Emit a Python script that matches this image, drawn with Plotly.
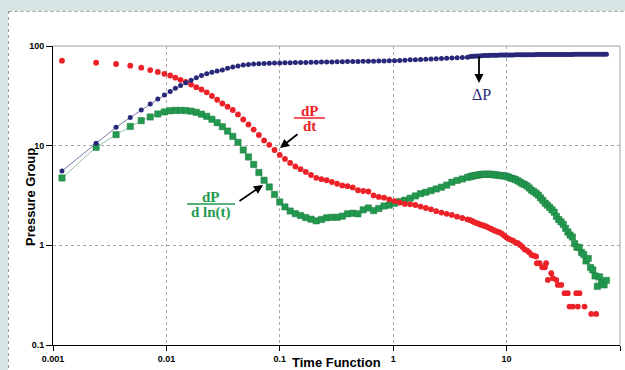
import plotly.graph_objects as go

# ---------------- data ----------------
time_main = [0.0012, 0.0024, 0.0036, 0.0048, 0.0060, 0.0072, 0.0084, 0.0096, 0.0108,
             0.0120, 0.01334, 0.01484, 0.01650, 0.01834, 0.02039, 0.02267, 0.02520, 0.02802, 0.03115,
             0.03463, 0.03850, 0.04280, 0.04758, 0.05290, 0.05881, 0.06538, 0.07268, 0.08080, 0.08982,
             0.09986, 0.1110, 0.1234, 0.1372, 0.1525, 0.1696, 0.1885, 0.2096, 0.2330, 0.2590,
             0.2879, 0.3201, 0.3558, 0.3956, 0.4398, 0.4889, 0.5436, 0.6043, 0.6718, 0.7468,
             0.8303, 0.9234, 1.027, 1.141, 1.269, 1.411, 1.569, 1.744, 1.939, 2.155,
             2.396, 2.664, 2.961, 3.292, 3.660, 4.069, 4.523]

time_tail = [4.786, 5.012, 5.248, 5.495, 5.754, 6.026, 6.310, 6.607, 6.918, 7.244,
             7.586, 7.943, 8.318, 8.710, 9.120, 9.550, 10.00, 10.47, 10.96, 11.48,
             12.02, 12.59, 13.18, 13.80, 14.45, 15.14, 15.85, 16.60, 17.38, 18.20,
             19.05, 19.95, 20.89, 21.88, 22.91, 23.99, 25.12, 26.30, 27.54, 28.84,
             30.20, 31.62, 33.11, 34.67, 36.31, 38.02, 39.81, 41.69, 43.65, 45.71,
             47.86, 50.12, 52.48, 54.95, 57.54, 60.26, 63.10, 66.07, 69.18, 72.44, 75.86]

delta_p_main = [5.57, 10.6, 15.3, 19.2, 22.8, 26.2, 29.4, 32.2, 35.0,
                37.6, 40.2, 42.7, 45.4, 48.0, 50.6, 52.6, 54.5, 56.1, 57.3,
                59.8, 61.6, 63.0, 64.3, 65.2, 65.8, 66.3, 66.8, 67.1, 67.4, 67.7,
                67.9, 68.0, 68.2, 68.3, 68.5, 68.6, 68.8, 68.9, 69.1, 69.2, 69.4,
                69.5, 69.7, 69.9, 70.0, 70.2, 70.3, 70.5, 70.7, 70.8, 71.0, 71.2,
                71.7, 72.0, 72.6, 72.9, 73.2, 73.6, 74.1, 74.4, 75.0, 75.3, 75.8,
                76.2, 76.7, 77.2]
delta_p_tail = [78.3, 78.7, 79.0, 79.3, 79.6, 79.9, 80.1, 80.3, 80.5, 80.6,
                80.7, 80.8, 80.9, 81.0, 81.1, 81.2, 81.2, 81.3, 81.4, 81.4,
                81.5, 81.6, 81.6, 81.7, 81.7, 81.8, 81.8, 81.9, 81.9, 82.0,
                82.0, 82.0, 82.1, 82.1, 82.1, 82.2, 82.2, 82.2, 82.3, 82.3,
                82.3, 82.3, 82.4, 82.4, 82.4, 82.4, 82.5, 82.5, 82.5, 82.5,
                82.6, 82.6, 82.6, 82.6, 82.6, 82.7, 82.7, 82.7, 82.7, 82.7, 82.8]

dpdt_main = [71.2, 68.0, 66.0, 63.5, 60.6, 57.4, 54.9, 52.6, 50.6,
             48.1, 45.8, 43.6, 41.0, 38.6, 36.6, 34.3, 31.5, 28.9, 26.5,
             24.6, 22.8, 20.6, 18.3, 16.3, 14.5, 12.8, 11.3, 10.2, 9.05,
             8.07, 7.36, 6.71, 6.19, 5.81, 5.45, 5.08, 4.76, 4.61, 4.50,
             4.32, 4.15, 3.99, 3.92, 3.81, 3.57, 3.51, 3.47, 3.17, 3.06,
             3.01, 2.89, 2.78, 2.69, 2.60, 2.58, 2.54, 2.45, 2.37, 2.30,
             2.20, 2.13, 2.07, 2.02, 1.94, 1.88, 1.82]
time_dpdt_tail = [4.786, 5.012, 5.248, 5.495, 5.754, 6.026, 6.310, 6.607, 6.918, 7.244,
                  7.586, 7.943, 8.318, 8.710, 9.120, 9.550, 10.00, 10.47, 10.96, 11.48,
                  12.02, 12.59, 13.18, 13.80, 14.45, 15.14, 15.85, 16.60, 17.38, 18.20,
                  18.49, 19.53, 20.63, 21.75, 22.30, 23.12, 24.76, 25.58, 27.41, 28.31,
                  30.34, 32.43, 34.68, 41.13, 43.98, 35.91, 38.38, 42.48, 48.67, 55.75, 61.70]
dpdt_tail = [1.789, 1.745, 1.697, 1.666, 1.632, 1.602, 1.573, 1.547, 1.508, 1.467,
             1.434, 1.394, 1.369, 1.347, 1.301, 1.248, 1.200, 1.159, 1.133, 1.107,
             1.064, 1.050, 1.009, 0.964, 0.910, 0.885, 0.849, 0.801, 0.788, 0.774,
             0.661, 0.661, 0.603, 0.603, 0.661, 0.450, 0.525, 0.468, 0.450, 0.401,
             0.401, 0.331, 0.331, 0.331, 0.331, 0.243, 0.243, 0.243, 0.243, 0.205, 0.205]

deriv_main = [4.74, 9.64, 12.9, 15.6, 17.8, 19.4, 20.8, 21.8, 22.4,
              22.6, 22.6, 22.5, 22.2, 21.6, 20.7, 19.7, 18.4, 17.0, 15.5,
              14.0, 12.4, 10.8, 9.05, 7.70, 6.48, 5.38, 4.50, 3.85, 3.24,
              2.72, 2.43, 2.21, 2.08, 1.99, 1.90, 1.83, 1.76, 1.82, 1.89,
              1.91, 1.91, 1.96, 2.07, 2.10, 2.07, 2.27, 2.37, 2.23, 2.34,
              2.48, 2.53, 2.64, 2.75, 2.84, 2.97, 3.13, 3.30, 3.41, 3.54,
              3.68, 3.83, 4.02, 4.30, 4.48, 4.63, 4.81]
deriv_tail = [4.89, 4.96, 5.01, 5.06, 5.11, 5.15, 5.17, 5.17, 5.17, 5.17,
              5.13, 5.09, 5.06, 5.02, 4.99, 4.97, 4.92, 4.83, 4.72, 4.66,
              4.56, 4.43, 4.30, 4.15, 4.07, 3.94, 3.76, 3.57, 3.46, 3.33,
              3.19, 2.99, 2.82, 2.65, 2.53, 2.40, 2.27, 2.15, 1.95, 1.81,
              1.72, 1.62, 1.48, 1.36, 1.27, 1.21, 1.04, 0.957, 0.953, 0.849,
              0.810, 0.697, 0.739, 0.600, 0.567, 0.493, 0.387, 0.483, 0.419, 0.401, 0.445]

x_tick_vals = [0.001, 0.01, 0.1, 1, 10, 100]
x_tick_text = ["0.001", "0.01", "0.1", "1", "10", "100"]
y_tick_vals = [0.1, 1, 10, 100]
y_tick_text = ["0.1", "1", "10", "100"]

# ---------------- styling ----------------
NAVY = "#28287a"
RED = "#ec2228"
GREEN = "#23994f"
SANS = "Liberation Sans, Arial, sans-serif"
SERIF = "Liberation Serif, Times New Roman, serif"

# plot area in pixels: x 53..620, y 46..345
L, T, R_, B_ = 53, 46, 620, 345
W, H = R_ - L, B_ - T


def px(xp):
    return (xp - L) / W


def py(yp):
    return (B_ - yp) / H


fig = go.Figure()

fig.add_trace(go.Scatter(
    x=time_main + time_tail, y=deriv_main + deriv_tail, mode="lines+markers",
    line=dict(color="#6fb38b", width=0.8),
    marker=dict(symbol="square", size=6.3, color=GREEN, line=dict(color="#1c7d40", width=0.5)),
    name="dP/d ln(t)"))
fig.add_trace(go.Scatter(
    x=time_main + time_dpdt_tail, y=dpdt_main + dpdt_tail, mode="markers",
    marker=dict(symbol="circle", size=5.8, color=RED, line=dict(width=0)),
    name="dP/dt"))
fig.add_trace(go.Scatter(
    x=time_main + time_tail, y=delta_p_main + delta_p_tail, mode="lines+markers",
    line=dict(color="#55558f", width=0.8),
    marker=dict(symbol="circle", size=5, color=NAVY, line=dict(width=0)),
    name="ΔP"))

axis_common = dict(
    type="log", showgrid=True, gridcolor="#a8a8a8", gridwidth=1, griddash="dot",
    showline=True, linecolor="black", linewidth=1, ticks="outside", tickcolor="black",
    tickwidth=1, zeroline=False, mirror=False,
    tickfont=dict(family=SANS, size=9, color="black", weight="bold"),
)

fig.update_layout(
    width=625, height=370, autosize=False,
    margin=dict(l=L, r=625 - R_, t=T, b=370 - B_, pad=0),
    paper_bgcolor="white", plot_bgcolor="white",
    showlegend=False,
    xaxis=dict(range=[-3, 2], tickvals=x_tick_vals, ticktext=x_tick_text, ticklen=5, **axis_common),
    yaxis=dict(range=[-1, 2], tickvals=y_tick_vals, ticktext=y_tick_text, ticklen=6, **axis_common),
)

BG = "#d6e4e3"
shapes = [
    # outer tinted background strips (left and top)
    dict(type="rect", xref="paper", yref="paper", x0=px(-20), x1=px(8), y0=py(400), y1=py(-20),
         fillcolor=BG, line=dict(width=0), layer="below"),
    dict(type="rect", xref="paper", yref="paper", x0=px(-20), x1=px(660), y0=py(11), y1=py(-20),
         fillcolor=BG, line=dict(width=0), layer="below"),
    # dotted border of white panel
    dict(type="line", xref="paper", yref="paper", x0=px(8.5), x1=px(8.5), y0=py(11), y1=py(400),
         line=dict(color="#9a9a9a", width=1, dash="dot")),
    dict(type="line", xref="paper", yref="paper", x0=px(8.5), x1=px(660), y0=py(11.5), y1=py(11.5),
         line=dict(color="#9a9a9a", width=1, dash="dot")),
    # top and right plot frame (gray)
    dict(type="line", xref="paper", yref="paper", x0=0, x1=1, y0=1, y1=1,
         line=dict(color="#a0a0a0", width=1)),
    dict(type="line", xref="paper", yref="paper", x0=1, x1=1, y0=0, y1=1,
         line=dict(color="#a0a0a0", width=1)),
    # fraction bars
    dict(type="line", xref="paper", yref="paper", x0=px(294), x1=px(325), y0=py(118), y1=py(118),
         line=dict(color=RED, width=1.5)),
    dict(type="line", xref="paper", yref="paper", x0=px(187), x1=px(235), y0=py(204), y1=py(204),
         line=dict(color=GREEN, width=1.5)),
]
fig.update_layout(shapes=shapes)

ann = [
    dict(text="Pressure Group", x=px(30), y=py(197), xref="paper", yref="paper", showarrow=False,
         textangle=-90, xanchor="center", yanchor="middle",
         font=dict(family=SANS, size=13, color="black", weight="bold")),
    dict(text="Time Function", x=px(336), y=py(362), xref="paper", yref="paper", showarrow=False,
         xanchor="center", yanchor="middle",
         font=dict(family=SANS, size=13, color="black", weight="bold")),
    # ΔP label + arrow
    dict(text="ΔP", x=px(481), y=py(94), xref="paper", yref="paper", showarrow=False,
         xanchor="center", yanchor="middle", font=dict(family=SERIF, size=16, color=NAVY)),
    dict(text="", x=px(479), y=py(83), xref="paper", yref="paper", showarrow=True,
         ax=0, ay=-28, arrowhead=2, arrowsize=1, arrowwidth=1.8, arrowcolor="black"),
    # dP/dt label + arrow
    dict(text="dP", x=px(309.5), y=py(111), xref="paper", yref="paper", showarrow=False,
         xanchor="center", yanchor="middle", font=dict(family=SERIF, size=15, color=RED, weight="bold")),
    dict(text="dt", x=px(309.5), y=py(126), xref="paper", yref="paper", showarrow=False,
         xanchor="center", yanchor="middle", font=dict(family=SERIF, size=15, color=RED, weight="bold")),
    dict(text="", x=px(280), y=py(148), xref="paper", yref="paper", showarrow=True,
         ax=19, ay=-15, arrowhead=2, arrowsize=1, arrowwidth=1.8, arrowcolor="black"),
    # dP/d ln(t) label + arrow
    dict(text="dP", x=px(211), y=py(197), xref="paper", yref="paper", showarrow=False,
         xanchor="center", yanchor="middle", font=dict(family=SERIF, size=15, color=GREEN, weight="bold")),
    dict(text="d ln(t)", x=px(211), y=py(212), xref="paper", yref="paper", showarrow=False,
         xanchor="center", yanchor="middle", font=dict(family=SERIF, size=15, color=GREEN, weight="bold")),
    dict(text="", x=px(263), y=py(185), xref="paper", yref="paper", showarrow=True,
         ax=-25, ay=17, arrowhead=2, arrowsize=1, arrowwidth=1.8, arrowcolor="black"),
]
fig.update_layout(annotations=ann)

# remove the default page margin so the 625x370 figure fills the window exactly
fig.write_html(
    "out.html",
    config={"displayModeBar": False},
    post_script="document.body.style.margin='0';document.body.style.overflow='hidden';",
)
